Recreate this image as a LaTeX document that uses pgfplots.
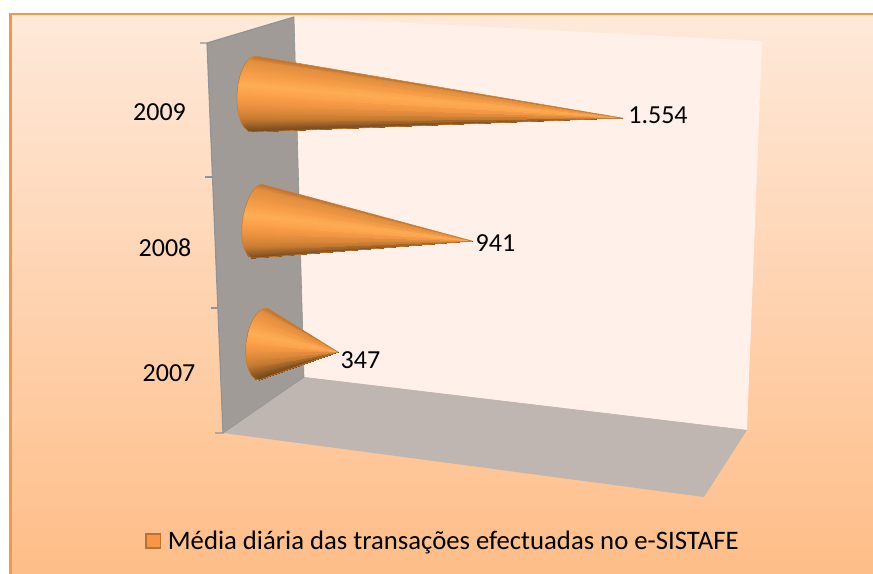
\documentclass[border=0pt]{standalone}
\usepackage{pgfplots}
\usepackage{fontspec}
\setmainfont{Carlito}
\pgfplotsset{compat=1.18}
\definecolor{bgtop}{HTML}{FEE9D9}
\definecolor{bgmid}{HTML}{FFD6B5}
\definecolor{bgbot}{HTML}{FEBD87}
\definecolor{frameor}{HTML}{F79646}
\definecolor{wallL}{HTML}{A19B97}
\definecolor{wallB}{HTML}{FFF1EA}
\definecolor{floorc}{HTML}{C0B6B1}
\definecolor{edgeg}{HTML}{8E9499}
\definecolor{coneedge}{HTML}{C47C36}
\definecolor{conebase}{HTML}{E8923F}
\definecolor{swatchedge}{HTML}{B87232}
\pgfplotsset{
  colormap={cone}{
    rgb255(0pt)=(190,116,48)
    rgb255(4pt)=(225,142,62)
    rgb255(20pt)=(245,156,71)
    rgb255(36pt)=(255,174,86)
    rgb255(50pt)=(250,158,72)
    rgb255(65pt)=(232,143,63)
    rgb255(80pt)=(200,125,50)
    rgb255(92pt)=(150,92,38)
    rgb255(100pt)=(110,70,28)
  }
}
\begin{document}
\begin{tikzpicture}
\path[use as bounding box] (0,0) rectangle (873bp,574bp);
\begin{axis}[
  width=873bp, height=574bp, scale only axis,
  xmin=0, xmax=873, ymin=0, ymax=574, y dir=reverse,
  hide axis, clip=false,
  point meta min=0, point meta max=1,
  colormap name=cone,
  legend style={at={(axis cs:145,541)}, anchor=west, draw=none, fill=none,
    font=\fontsize{26.7bp}{30bp}\selectfont, inner sep=0pt, outer sep=0pt},
  legend cell align=left,
  legend image code/.code={
    \draw[fill=frameor, draw=swatchedge, line width=1.8bp, solid] (0bp,-7bp) rectangle (14.5bp,7bp);
    \path (20bp,0bp);},
]
% page
\addplot[draw=none, fill=white] coordinates {(0,0) (873,0) (873,574) (0,574)} -- cycle;
% chart area
\addplot[draw=none, top color=bgtop, middle color=bgmid, bottom color=bgbot]
  coordinates {(11,14) (880,14) (880,580) (11,580)} -- cycle;
\addplot[frameor, line width=3bp] coordinates {(10.5,14) (10.5,580)};
\addplot[frameor, line width=1.5bp] coordinates {(9,14) (880,14)};
% walls
\addplot[draw=none, fill=wallB] coordinates {(294,17) (762,41) (747,430) (304,377)} -- cycle;
\addplot[draw=none, fill=floorc] coordinates {(304,377) (747,430) (704,497) (223,433)} -- cycle;
\addplot[draw=none, fill=wallL] coordinates {(207,43) (294,17) (304,377) (223,433)} -- cycle;
\addplot[edgeg, line width=1.2bp] coordinates {(200,43) (207,43) (294,17)};
\addplot[edgeg, line width=1.2bp] coordinates {(207,43) (223,433) (215,433)};
\addplot[edgeg, line width=1.2bp] coordinates {(205,177) (212,177)};
\addplot[edgeg, line width=1.2bp] coordinates {(211,308) (218,308)};
\addplot[edgeg, line width=0.6bp] coordinates {(294,17) (304,377) (223,433)};
% cones: solid underlay, then strips from the tip to the base
\addplot[draw=none, fill=conebase] coordinates {(622,118) (255,56) (250.7,57.6) (246.55,61.6) (242.9,67.8) (240,75.9) (237.9,85.1) (237,95) (237.2,104.8) (238.5,113.9) (240.8,121.6) (244,127.4) (247.8,131) (252,132)} -- cycle;
\addplot[patch, shader=interp] table[point meta=\thisrow{c}] {
x y c
622 118 .0085
255 56 0
250.7 57.6 .017
622 118 .042
250.7 57.6 .017
246.55 61.6 .067
622 118 .1065
246.55 61.6 .067
242.9 67.8 .146
622 118 .198
242.9 67.8 .146
240 75.9 .25
622 118 .31
240 75.9 .25
237.9 85.1 .371
622 118 .435
237.9 85.1 .371
237 95 .5
622 118 .565
237 95 .5
237.2 104.8 .629
622 118 .69
237.2 104.8 .629
238.5 113.9 .75
622 118 .8
238.5 113.9 .75
240.8 121.6 .854
622 118 .89
240.8 121.6 .854
244 127.4 .933
622 118 .958
244 127.4 .933
247.8 131 .983
622 118 .99
247.8 131 .983
252 132 1
};
\addplot[coneedge, line width=0.6bp] coordinates {(622,118) (255,56) (250.7,57.6) (246.55,61.6) (242.9,67.8) (240,75.9) (237.9,85.1) (237,95) (237.2,104.8) (238.5,113.9) (240.8,121.6) (244,127.4) (247.8,131) (252,132)} -- cycle;
\addplot[draw=none, fill=conebase] coordinates {(472,241) (261,184) (256.8,186.3) (252.6,191) (248.8,197.7) (245.6,206) (243.3,215.3) (242,225) (241.8,234.4) (242.6,243) (244.6,250) (247.4,255) (251,257.8) (255,258)} -- cycle;
\addplot[patch, shader=interp] table[point meta=\thisrow{c}] {
x y c
472 241 .0085
261 184 0
256.8 186.3 .017
472 241 .042
256.8 186.3 .017
252.6 191 .067
472 241 .1065
252.6 191 .067
248.8 197.7 .146
472 241 .198
248.8 197.7 .146
245.6 206 .25
472 241 .31
245.6 206 .25
243.3 215.3 .371
472 241 .435
243.3 215.3 .371
242 225 .5
472 241 .565
242 225 .5
241.8 234.4 .629
472 241 .69
241.8 234.4 .629
242.6 243 .75
472 241 .8
242.6 243 .75
244.6 250 .854
472 241 .89
244.6 250 .854
247.4 255 .933
472 241 .958
247.4 255 .933
251 257.8 .983
472 241 .99
251 257.8 .983
255 258 1
};
\addplot[coneedge, line width=0.6bp] coordinates {(472,241) (261,184) (256.8,186.3) (252.6,191) (248.8,197.7) (245.6,206) (243.3,215.3) (242,225) (241.8,234.4) (242.6,243) (244.6,250) (247.4,255) (251,257.8) (255,258)} -- cycle;
\addplot[draw=none, fill=conebase] coordinates {(338,352) (267,308) (262.5,309) (258,312.3) (253.8,317.8) (250.3,325.1) (247.6,333.7) (246,343) (245.5,352.4) (246.3,361.1) (248.2,368.7) (251,374.7) (254.7,378.5) (259,380)} -- cycle;
\addplot[patch, shader=interp] table[point meta=\thisrow{c}] {
x y c
338 352 .0085
267 308 0
262.5 309 .017
338 352 .042
262.5 309 .017
258 312.3 .067
338 352 .1065
258 312.3 .067
253.8 317.8 .146
338 352 .198
253.8 317.8 .146
250.3 325.1 .25
338 352 .31
250.3 325.1 .25
247.6 333.7 .371
338 352 .435
247.6 333.7 .371
246 343 .5
338 352 .565
246 343 .5
245.5 352.4 .629
338 352 .69
245.5 352.4 .629
246.3 361.1 .75
338 352 .8
246.3 361.1 .75
248.2 368.7 .854
338 352 .89
248.2 368.7 .854
251 374.7 .933
338 352 .958
251 374.7 .933
254.7 378.5 .983
338 352 .99
254.7 378.5 .983
259 380 1
};
\addplot[coneedge, line width=0.6bp] coordinates {(338,352) (267,308) (262.5,309) (258,312.3) (253.8,317.8) (250.3,325.1) (247.6,333.7) (246,343) (245.5,352.4) (246.3,361.1) (248.2,368.7) (251,374.7) (254.7,378.5) (259,380)} -- cycle;
% value and category labels
\addplot[draw=none, mark=none, nodes near coords, point meta=explicit symbolic,
  every node near coord/.style={anchor=center, inner sep=0pt, text=black,
    font=\fontsize{26bp}{30bp}\selectfont}]
  table[meta=t] {
x y t
658 115 1.554
495.5 243 941
360.5 360 347
159.5 112 2009
165 248 2008
169 373 2007
};
\addlegendimage{}
\addlegendentry{Média diária das transações efectuadas no e-SISTAFE}
\end{axis}
\end{tikzpicture}
\end{document}
